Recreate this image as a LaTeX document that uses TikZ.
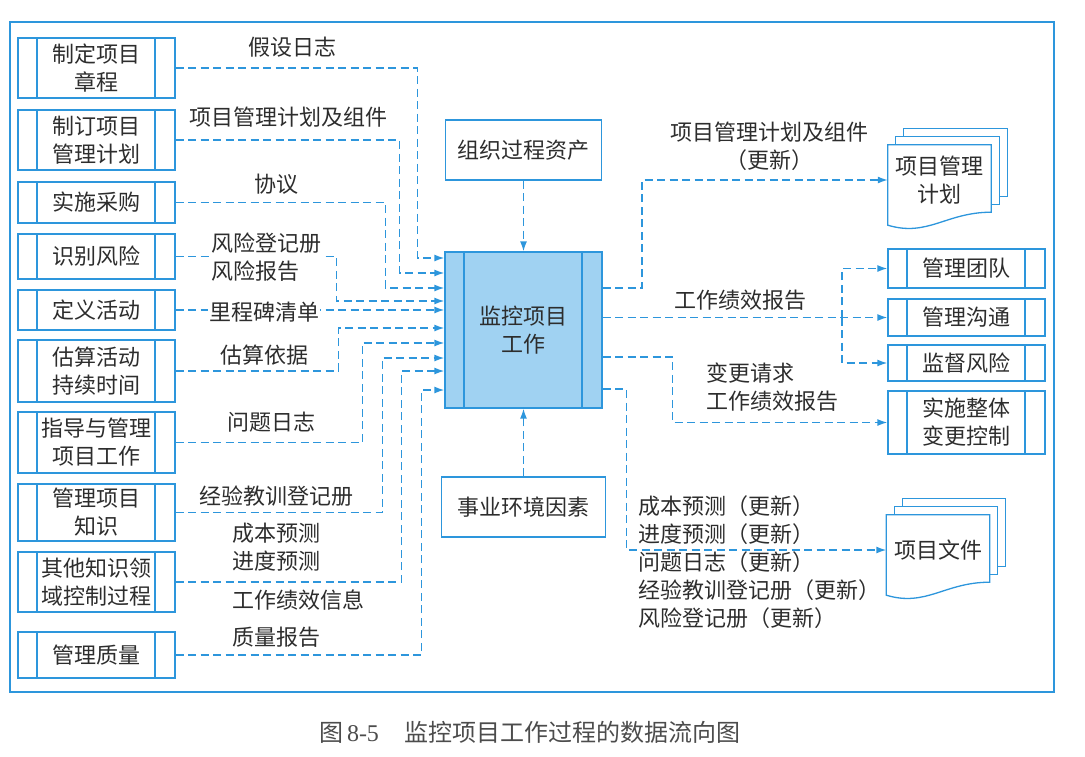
\documentclass[tikz,border=0pt]{standalone}
\usepackage{fontspec}
\setmainfont{Liberation Serif}
\newfontfamily\cjk{Noto Sans CJK SC}
\usetikzlibrary{arrows.meta, backgrounds}
\definecolor{bline}{RGB}{45,150,220}
\definecolor{bfill}{RGB}{160,210,242}
\definecolor{txt}{RGB}{45,45,45}
\tikzset{
  proc/.style={draw=bline, line width=1.3pt, minimum width=157pt, align=center, inner sep=0pt,
    path picture={\draw[bline, line width=1.3pt]
      ([xshift=19pt]path picture bounding box.north west) -- ([xshift=19pt]path picture bounding box.south west)
      ([xshift=-20pt]path picture bounding box.north east) -- ([xshift=-20pt]path picture bounding box.south east);}},
  asset/.style={draw=bline, line width=1.3pt, minimum height=60pt},
  docnode/.style={minimum width=103pt, minimum height=70pt, inner sep=0pt, align=center},
  flow/.style={->, bline, line width=1.4pt, dash pattern=on 8pt off 4.5pt},
  lbl/.style={fill=white, inner sep=1pt}
}
\newcommand{\docpages}[1]{%
  \foreach \s in {16pt,8pt}
    \draw[bline, line width=1.3pt, fill=white] ([shift={(\s,\s)}]#1.north west) rectangle ([shift={(\s,3pt+\s)}]#1.south east);
  \draw[bline, line width=1.3pt, fill=white] (#1.north west) -- (#1.north east) -- ([yshift=3pt]#1.south east)
    .. controls ([shift={(-45pt,3pt)}]#1.south east) and ([shift={(40pt,-22pt)}]#1.south west) .. ([yshift=-10pt]#1.south west) -- cycle;}

\begin{document}
\begin{tikzpicture}[x=1pt, y=-1pt, >={Latex[length=10pt,width=7pt]},
  every node/.style={font=\cjk\fontsize{22}{28}\selectfont, text=txt}]
\useasboundingbox (0,0) rectangle (1085,756);
\draw[bline, line width=1.3pt] (10,22) rectangle (1054,692);

\node[proc, minimum height=60pt] (b1) at (96.5,68) {制定项目\\章程};
\node[proc, minimum height=60pt] (b2) at (96.5,140) {制订项目\\管理计划};
\node[proc, minimum height=41pt] (b3) at (96.5,202.5) {实施采购};
\node[proc, minimum height=45pt] (b4) at (96.5,256.5) {识别风险};
\node[proc, minimum height=40pt] (b5) at (96.5,310) {定义活动};
\node[proc, minimum height=62pt] (b6) at (96.5,371) {估算活动\\持续时间};
\node[proc, minimum height=61pt] (b7) at (96.5,442.5) {指导与管理\\项目工作};
\node[proc, minimum height=57pt] (b8) at (96.5,512.5) {管理项目\\知识};
\node[proc, minimum height=60pt] (b9) at (96.5,582) {其他知识领\\域控制过程};
\node[proc, minimum height=46pt] (b10) at (96.5,655) {管理质量};

\node[proc, fill=bfill, minimum height=156pt] (ctr) at (523.5,330) {监控项目\\工作};
\node[asset, minimum width=156pt] (org) at (523.5,150) {组织过程资产};
\node[asset, minimum width=164pt] (env) at (523.5,507) {事业环境因素};

\node[proc, minimum height=39pt] (t1) at (966.5,268.5) {管理团队};
\node[proc, minimum height=37pt] (t2) at (966.5,317.5) {管理沟通};
\node[proc, minimum height=36pt] (t3) at (966.5,363) {监督风险};
\node[proc, minimum height=63pt] (t4) at (966.5,422.5) {实施整体\\变更控制};

\node[docnode] (pmp) at (939.5,180) {项目管理\\计划};
\node[docnode] (pdoc) at (938,550) {项目文件};
\begin{scope}[on background layer]
  \docpages{pmp}
  \docpages{pdoc}
\end{scope}

\draw[flow] (org) -- (ctr);
\draw[flow] (env) -- (ctr);
\foreach \src/\dx/\dy in {b1/-27pt/72pt, b2/-45pt/57pt, b3/-59pt/42pt, b4/-108pt/29pt, b6/-106pt/2pt,
    b7/-82pt/-13pt, b8/-62pt/-28pt, b9/-43pt/-41pt, b10/-23pt/-60pt}
  \draw[flow] (\src.east) -| ([xshift=\dx, yshift=\dy]ctr.west) -- ([yshift=\dy]ctr.west);
\draw[flow] (b5) -- (b5 -| ctr.west);

\draw[flow] ([yshift=42pt]ctr.east) -| ([xshift=-246pt]pmp.west) -- (pmp.west);
\draw[flow] (ctr.east |- t2) -- (t2);
\coordinate (br) at (842,317.5);
\draw[flow] (br) |- (t1);
\draw[flow] (br) |- (t3);
\draw[flow] ([yshift=-27pt]ctr.east) -| ([xshift=-215pt]t4.west) -- (t4.west);
\draw[flow] ([yshift=-59pt]ctr.east) -| ([xshift=-260pt]pdoc.west) -- (pdoc.west);

\node (l1) at (292,47) {假设日志};
\node (l2) at (288,117) {项目管理计划及组件};
\node (l3) at (276,184) {协议};
\node[lbl, align=left, anchor=west] (l4) at (210,257) {风险登记册\\风险报告};
\node[lbl] (l5) at (264,312) {里程碑清单};
\node (l6) at (264,355) {估算依据};
\node (l7) at (271,422) {问题日志};
\node (l8) at (276,496) {经验教训登记册};
\node[align=left, anchor=west] (l9) at (229,547) {成本预测\\进度预测};
\node[anchor=west] (l9b) at (229,600) {工作绩效信息};
\node[anchor=west] (l10) at (229,637) {质量报告};
\node[align=center] (r1) at (769,146) {项目管理计划及组件\\（更新）};
\node (r2) at (740,300) {工作绩效报告};
\node[align=left, anchor=west] (r3) at (703,387.5) {变更请求\\工作绩效报告};
\node[align=left, anchor=west] (r4) at (635,562) {成本预测（更新）\\进度预测（更新）\\问题日志（更新）\\经验教训登记册（更新）\\风险登记册（更新）};

\node[font=\rmfamily\fontsize{24}{28}\selectfont, text=txt!85] (cap) at (530,732)
  {{\cjk 图}\,8-5\hspace{26pt}{\cjk 监控项目工作过程的数据流向图}};
\end{tikzpicture}
\end{document}
